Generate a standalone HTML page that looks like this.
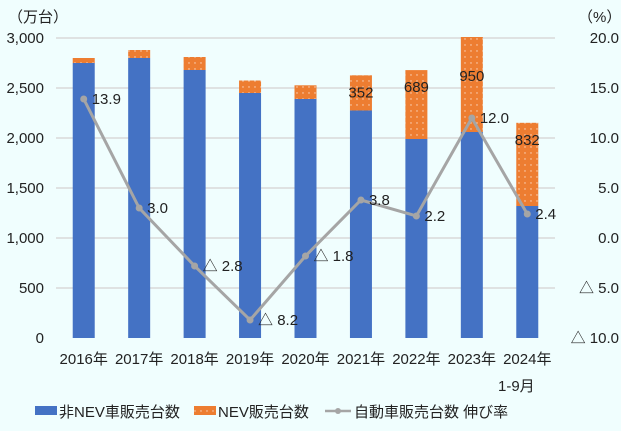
<!DOCTYPE html>
<html><head><meta charset="utf-8"><style>
body{margin:0;background:#f0fefe;}
svg{display:block;font-family:"Liberation Sans","Noto Sans CJK JP",sans-serif;}
</style></head><body>
<svg width="621" height="431">
<defs><pattern id="dots" width="6" height="6" patternUnits="userSpaceOnUse"><rect width="6" height="6" fill="#ed7d31"/><circle cx="3" cy="3" r="0.7" fill="#fbd9c2"/></pattern></defs>
<g id="grid"></g><g id="bars"></g><g id="line"></g><g id="labels"></g>
<text x="8" y="22" font-size="15" fill="#222">（万台）</text>
<text x="578" y="22" font-size="15" fill="#222">（%）</text>
<text x="498" y="391" font-size="15" fill="#222">1-9月</text>
<g font-size="15" fill="#222">
<rect x="35" y="406" width="22" height="9" fill="#4472c4"/>
<text x="59" y="417">非NEV車販売台数</text>
<rect x="194" y="406" width="22" height="9" fill="url(#dots)"/>
<text x="218" y="417">NEV販売台数</text>
<line x1="325" y1="411" x2="351" y2="411" stroke="#a5a5a5" stroke-width="2.5"/><circle cx="338" cy="411" r="3" fill="#a5a5a5"/>
<text x="354" y="417">自動車販売台数 伸び率</text>
</g>
</svg>
<script>
const categories=["2016年","2017年","2018年","2019年","2020年","2021年","2022年","2023年","2024年"];
const nonNev=[2750,2800,2680,2450,2390,2275,1990,2060,1320];
const nev=[50,80,130,125,137,352,689,950,832];
const nevLabels=["","","","","","352","689","950","832"];
const growth=[13.9,3.0,-2.8,-8.2,-1.8,3.8,2.2,12.0,2.4];
const growthLabels=["13.9","3.0","△ 2.8","△ 8.2","△ 1.8","3.8","2.2","12.0","2.4"];
const leftTicks=[0,500,1000,1500,2000,2500,3000];
const rightTicks=[-10,-5,0,5,10,15,20];
const rightTickLabels=["△ 10.0","△ 5.0","0.0","5.0","10.0","15.0","20.0"];
const NS="http://www.w3.org/2000/svg";
const top0=38,bot=338,x0=56,x1=555;
const yL=v=>bot-(v/3000)*(bot-top0);
const yR=v=>bot-((v+10)/30)*(bot-top0);
const step=(x1-x0)/categories.length;
const xC=i=>x0+step*(i+0.5);
function mk(tag,attrs,parent,txt){const e=document.createElementNS(NS,tag);for(const k in attrs)e.setAttribute(k,attrs[k]);if(txt!==undefined)e.textContent=txt;document.getElementById(parent).appendChild(e);return e;}
leftTicks.forEach(t=>{
 if(t>0){const l=mk('line',{x1:x0,x2:x1,y1:yL(t),y2:yL(t),stroke:'#d9d9d9','stroke-width':1.5},'grid');
 
 }
 const tx=mk('text',{x:44,y:yL(t)+5,'text-anchor':'end','font-size':15,fill:'#222'},'labels',t.toLocaleString('en-US'));
 
 
});
rightTicks.forEach((t,i)=>{
 const tx=mk('text',{x:619,y:yR(t)+5,'text-anchor':'end','font-size':15,fill:'#222'},'labels',rightTickLabels[i]);
 
 
});
const bw=22;
categories.forEach((c,i)=>{
 const b1=mk('rect',{x:xC(i)-bw/2,y:yL(nonNev[i]),width:bw,height:bot-yL(nonNev[i]),fill:'#4472c4'},'bars');
 
 
 const b2=mk('rect',{x:xC(i)-bw/2,y:yL(nonNev[i]+nev[i]),width:bw,height:yL(nonNev[i])-yL(nonNev[i]+nev[i]),fill:'url(#dots)'},'bars');
 
 
 if(nevLabels[i]){const t=mk('text',{x:xC(i),y:yL(nonNev[i]+nev[i])+(i==7?44:22),'text-anchor':'middle','font-size':15,fill:'#222'},'labels',nevLabels[i]);
 
 }
 const xl=mk('text',{x:xC(i),y:364,'text-anchor':'middle','font-size':15,fill:'#222'},'labels',c);
 
 
});
const pts=growth.map((g,i)=>xC(i)+','+yR(g)).join(' ');
const pl=mk('polyline',{points:pts,fill:'none',stroke:'#a5a5a5','stroke-width':3},'line');


growth.forEach((g,i)=>{
 const c=mk('circle',{cx:xC(i),cy:yR(g),r:3.5,fill:'#a5a5a5'},'line');
 
 
 const t=mk('text',{x:xC(i)+8,y:yR(g)+5,'font-size':15,fill:'#222'},'labels',growthLabels[i]);
 
 
});
</script>
</body></html>
